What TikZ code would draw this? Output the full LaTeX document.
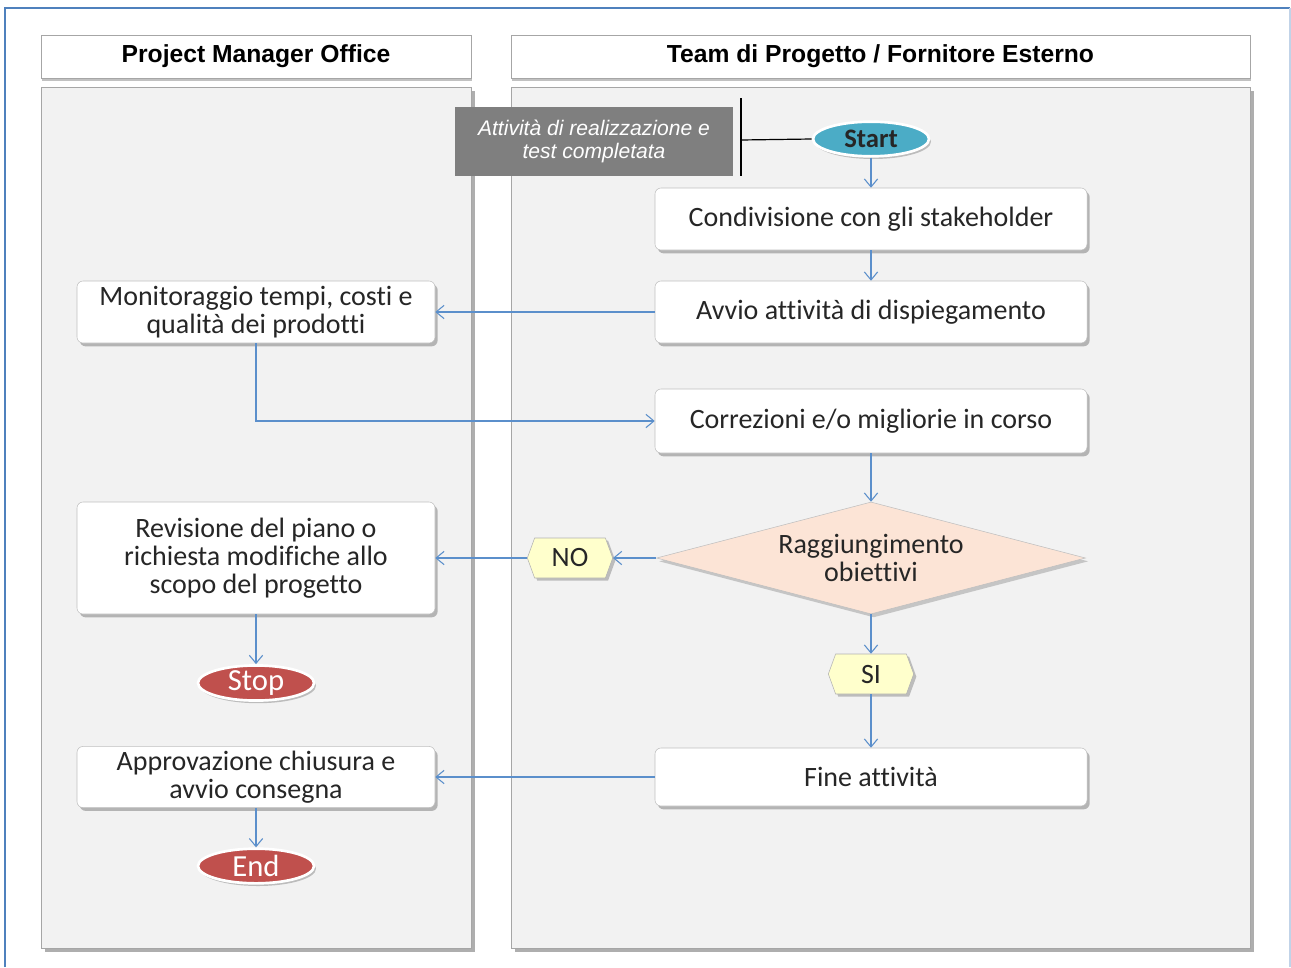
\documentclass[tikz,border=0pt]{standalone}
\usepackage{fontspec}
\setmainfont{Carlito}[Ligatures={NoCommon}]
\newfontfamily\arialf{Liberation Sans}
\usetikzlibrary{shapes.geometric,shapes.symbols,shadows,arrows.meta}
\definecolor{lanefill}{HTML}{F2F2F2}
\definecolor{laneline}{HTML}{A6A6A6}
\definecolor{arrowc}{HTML}{5B8FCB}
\definecolor{framec}{HTML}{4F81BD}
\definecolor{darkbox}{HTML}{7F7F7F}
\definecolor{peach}{HTML}{FCE4D6}
\definecolor{tagfill}{HTML}{FFFFCC}
\definecolor{startc}{HTML}{4BACC6}
\definecolor{stopc}{HTML}{C0504D}
\tikzset{
  x=0.75pt, y=-0.75pt,
  boxtext/.style={font=\fontsize{21}{21}\selectfont, align=center, text=black!85},
  procbox/.style={boxtext, draw=black!25, fill=white, rounded corners=4.5pt,
    drop shadow={shadow xshift=2pt, shadow yshift=-2.5pt, fill=black!45, opacity=0.6}},
  header/.style={draw=black!35, fill=white, font=\arialf\bfseries\fontsize{18.5}{20}\selectfont,
    drop shadow={shadow xshift=1pt, shadow yshift=-2pt, fill=black!40, opacity=0.6}},
  lane/.style={draw=laneline, fill=lanefill,
    drop shadow={shadow xshift=3pt, shadow yshift=-3pt, fill=black!45, opacity=0.7}},
  term/.style={ellipse, draw=white, line width=2pt, minimum width=87pt, minimum height=26pt, inner sep=0pt,
    drop shadow={shadow xshift=1.5pt, shadow yshift=-2pt, fill=black!40, opacity=0.6}},
  tag/.style={signal, signal to=west and east, signal pointer angle=140, draw=black!30, fill=tagfill,
    boxtext, minimum width=64pt, minimum height=30pt, inner sep=0pt,
    drop shadow={shadow xshift=2pt, shadow yshift=-2pt, fill=black!40, opacity=0.6}},
  arr/.style={draw=arrowc, line width=0.8pt, -{Straight Barb[length=6pt,width=10pt,line width=0.8pt]}},
}
\begin{document}
\begin{tikzpicture}
\useasboundingbox (0,0) rectangle (1291,967);
\fill[white] (0,0) rectangle (1291,967);
% outer frame
\draw[framec, line width=1.5pt] (5,967) -- (5,8) -- (1290,8);
\draw[framec!35, line width=1pt] (1290,8) -- (1290,967);

% lanes
\node[lane, minimum width=322.5pt, minimum height=645.75pt, inner sep=0pt] (laneL) at (256,517.5) {};
\node[lane, minimum width=554.25pt, minimum height=645.75pt, inner sep=0pt] (laneR) at (880.5,517.5) {};
\node[header, minimum width=322.5pt, minimum height=32.25pt, inner sep=0pt] (hL) at (256,56.5) {Project Manager Office};
\node[header, minimum width=554.25pt, minimum height=32.25pt, inner sep=0pt] (hR) at (880.5,56.5) {Team di Progetto / Fornitore Esterno};

% trigger box
\node[fill=darkbox, text=white, align=center, minimum width=208.5pt, minimum height=51.75pt, inner sep=0pt,
  font=\arialf\itshape\fontsize{15.8}{17.5}\selectfont] (trig) at (594,141.5) {Attività di realizzazione e\\test completata};
\coordinate (barT) at (741,98);
\coordinate (barB) at (741,176);
\coordinate (barM) at (741,140);
\draw[black, line width=0.9pt] (barT) -- (barB);

% right lane nodes
\node[term, fill=startc, font=\bfseries\fontsize{20}{20}\selectfont, text=black!85] (start) at (871,139) {Start};
\node[procbox, minimum width=324pt, minimum height=46.5pt] (cond) at (871,219) {Condivisione con gli stakeholder};
\node[procbox, minimum width=324pt, minimum height=46.5pt] (avvio) at (871,312) {Avvio attività di dispiegamento};
\node[procbox, minimum width=324pt, minimum height=48pt] (corr) at (871,421) {Correzioni e/o migliorie in corso};
\node[diamond, draw=black!25, fill=peach, boxtext, minimum width=321.75pt, minimum height=84pt, inner sep=0pt, aspect=3.8,
  drop shadow={shadow xshift=2pt, shadow yshift=-2.5pt, fill=black!40, opacity=0.5}] (dia) at (871,558) {Raggiungimento\\obiettivi};
\node[tag] (no) at (570,558) {NO};
\node[tag] (si) at (871,674) {SI};
\node[procbox, minimum width=324pt, minimum height=43.5pt] (fine) at (871,777) {Fine attività};

% left lane nodes
\node[procbox, minimum width=268.5pt, minimum height=46.5pt] (monit) at (256,312) {Monitoraggio tempi, costi e\\qualità dei prodotti};
\node[procbox, minimum width=268.5pt, minimum height=84pt] (revis) at (256,558) {Revisione del piano o\\richiesta modifiche allo\\scopo del progetto};
\node[term, fill=stopc, font=\fontsize{23}{23}\selectfont, text=white] (stop) at (256,683) {Stop};
\node[procbox, minimum width=268.5pt, minimum height=43.5pt] (appr) at (256,777) {Approvazione chiusura e\\avvio consegna};
\node[term, fill=stopc, font=\fontsize{23}{23}\selectfont, text=white] (endn) at (256,866) {End};

% connectors
\draw[black, line width=0.9pt] (barM) -- (start.west);
\draw[arr] (start.south) -- (cond.north);
\draw[arr] (cond.south) -- (avvio.north);
\draw[arr] (avvio.west) -- (monit.east);
\draw[arr] (monit.south) |- (corr.west);
\draw[arr] (corr.south) -- (dia.north);
\draw[arr] (dia.west) -- (no.east);
\draw[arr] (no.west) -- (revis.east);
\draw[arr] (dia.south) -- (si.north);
\draw[arr] (si.south) -- (fine.north);
\draw[arr] (fine.west) -- (appr.east);
\draw[arr] (revis.south) -- (stop.north);
\draw[arr] (appr.south) -- (endn.north);
\end{tikzpicture}
\end{document}
